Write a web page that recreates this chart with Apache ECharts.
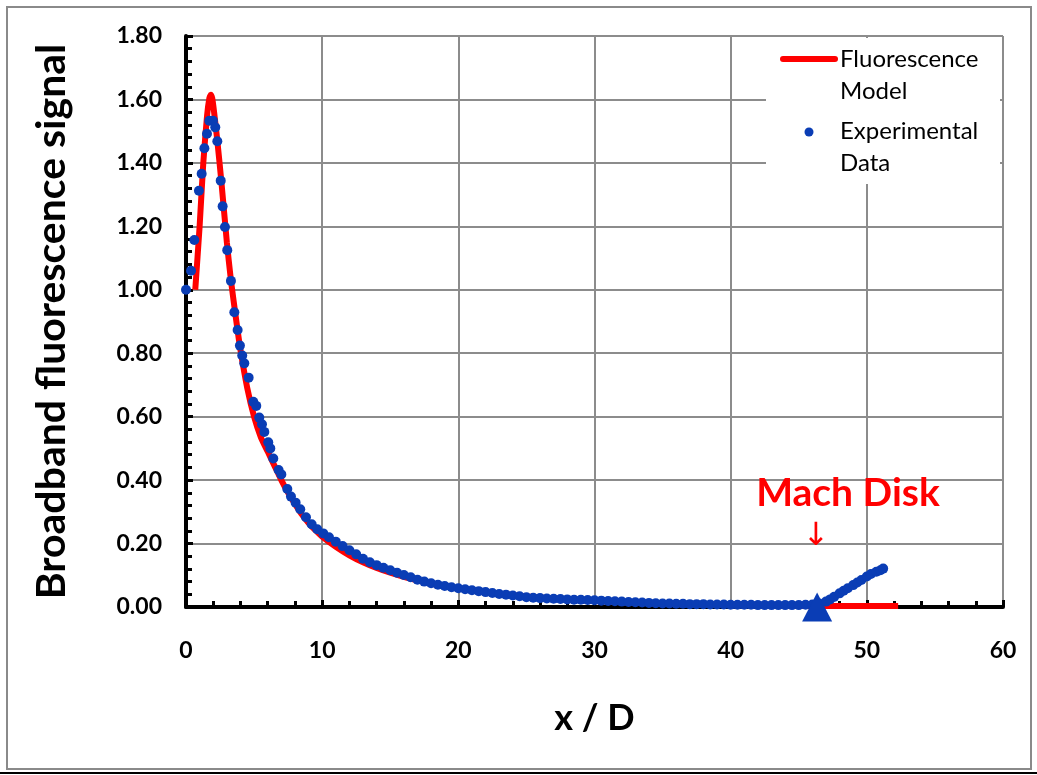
<!DOCTYPE html>
<html><head><meta charset="utf-8">
<script src="https://cdn.jsdelivr.net/npm/echarts@6/dist/echarts.min.js"></script>
<style>html,body{margin:0;padding:0;background:#fff}#c{width:1037px;height:775px}</style>
</head><body><div id="c"></div><script>
const xTitle = 'x / D';
const yTitle = 'Broadband fluorescence signal';
const modelName = 'Fluorescence Model';
const dataName = 'Experimental Data';
const xMin = 0, xMax = 60, xStep = 10;
const yMin = 0, yMax = 1.8, yStep = 0.2;
const machDiskX = 46.35;

const modelCurve = [
 [0.68,1.0],[1.0,1.2],[1.27,1.40],[1.55,1.55],[1.72,1.605],[1.82,1.615],[1.92,1.605],[2.05,1.565],
 [2.3,1.47],[2.6,1.34],[3.0,1.15],[3.3,1.03],[3.7,0.90],[4.0,0.81],[4.5,0.69],[5.0,0.60],
 [5.5,0.535],[6.0,0.49],[6.5,0.445],[7.0,0.40],[7.5,0.36],[8.0,0.325],[8.5,0.292],[9.0,0.265],
 [9.5,0.242],[10,0.222],[11,0.19],[12,0.163],[13,0.141],[14,0.123],[15,0.108],[16,0.095],
 [17,0.084],[18,0.074],[19,0.066],[20,0.058],[22,0.046],[24,0.037],[26,0.030],[28,0.024],
 [30,0.019],[33,0.014],[36,0.010],[40,0.007],[44,0.004],[46.5,0.003],[52.3,0.003]
];

const expData = [
 [0,1.00],[0.37,1.06],[0.61,1.157],[0.95,1.312],[1.15,1.366],[1.35,1.446],[1.54,1.492],[1.71,1.533],
 [1.98,1.533],[2.15,1.512],[2.30,1.468],[2.55,1.344],[2.69,1.263],[2.86,1.198],[3.03,1.125],[3.30,1.028],
 [3.55,0.929],[3.79,0.873],[3.96,0.824],[4.13,0.793],[4.28,0.768],[4.60,0.723],[4.94,0.647],[5.16,0.634],
 [5.38,0.597],[5.58,0.576],[5.75,0.552],[6.04,0.519],[6.19,0.500],[6.41,0.468],[6.80,0.432],[7.00,0.418],
 [7.44,0.372],[7.71,0.348],[8.05,0.329],[8.39,0.308],[8.81,0.283],[9.23,0.261],[9.64,0.245],[10.08,0.232],
 [10.5,0.220],[11,0.206],[11.5,0.192],[12,0.179],[12.5,0.166],[13,0.152],[13.5,0.141],[14,0.132],
 [14.5,0.124],[15,0.116],[15.5,0.108],[16,0.101],[16.5,0.094],[17,0.086],[17.5,0.080],[18,0.075],
 [18.5,0.070],[19,0.066],[19.5,0.062],[20,0.059],[20.5,0.056],[21,0.053],[21.5,0.050],[22,0.047],
 [22.5,0.044],[23,0.041],[23.5,0.039],[24,0.036],[24.5,0.034],[25,0.031],[25.5,0.029],[26,0.028],
 [26.5,0.027],[27,0.026],[27.5,0.025],[28,0.024],[28.5,0.023],[29,0.023],[29.5,0.022],[30,0.021],
 [30.5,0.020],[31,0.019],[31.5,0.018],[32,0.017],[32.5,0.016],[33,0.015],[33.5,0.014],[34,0.013],
 [34.5,0.012],[35,0.011],[35.5,0.011],[36,0.010],[36.5,0.010],[37,0.009],[37.5,0.009],[38,0.009],
 [38.5,0.008],[39,0.008],[39.5,0.008],[40,0.007],[40.5,0.007],[41,0.007],[41.5,0.007],[42,0.006],
 [42.5,0.006],[43,0.006],[43.5,0.006],[44,0.006],[44.5,0.006],[45,0.006],[45.5,0.007],[46,0.008],
 [46.5,0.011],[47,0.017],[47.3,0.024],[47.6,0.032],[48,0.043],[48.3,0.051],[48.6,0.059],[49,0.069],
 [49.3,0.077],[49.6,0.085],[50,0.096],[50.3,0.104],[50.7,0.111],[51,0.116],[51.2,0.121]
];

const markerData = [[machDiskX, 0]];

const FONT = 'Lato';
const RED = '#ff0000';
const BLUE = '#0a3db5';

const chart = echarts.init(document.getElementById('c'));
chart.setOption({
  animation: false,
  backgroundColor: '#fff',
  grid: {left: 186, right: 34, top: 36, bottom: 168, containLabel: false},
  xAxis: {
    type: 'value', min: xMin, max: xMax, interval: xStep,
    axisLine: {show: true, onZero: false, lineStyle: {color: '#000', width: 4}},
    axisTick: {show: true, inside: true, length: 7, lineStyle: {color: '#000', width: 3}},
    minorTick: {show: true, splitNumber: 5, length: 6, lineStyle: {color: '#000', width: 3}},
    splitLine: {show: true, lineStyle: {color: '#8c8c8c', width: 2}},
    axisLabel: {color: '#000', fontFamily: FONT, fontWeight: 'bold', fontSize: 23, margin: 32},
    name: xTitle, nameLocation: 'middle', nameGap: 93,
    nameTextStyle: {color: '#000', fontFamily: FONT, fontWeight: 'bold', fontSize: 36}
  },
  yAxis: {
    type: 'value', min: yMin, max: yMax, interval: yStep,
    axisLine: {show: true, onZero: false, lineStyle: {color: '#000', width: 4}},
    axisTick: {show: true, inside: true, length: 7, lineStyle: {color: '#000', width: 3}},
    minorTick: {show: true, splitNumber: 5, length: 6, lineStyle: {color: '#000', width: 3}},
    splitLine: {show: true, lineStyle: {color: '#8c8c8c', width: 2}},
    axisLabel: {color: '#000', fontFamily: FONT, fontWeight: 'bold', fontSize: 23, margin: 24,
      formatter: v => v.toFixed(2)},
    name: yTitle, nameLocation: 'middle', nameGap: 114,
    nameTextStyle: {color: '#000', fontFamily: FONT, fontWeight: 'bold', fontSize: 41}
  },
  legend: {show: false},
  series: [
    {name: modelName, type: 'line', data: modelCurve, showSymbol: false, smooth: 0.2,
     lineStyle: {color: RED, width: 6}, itemStyle: {color: RED}, z: 3},
    {name: dataName, type: 'scatter', data: expData, symbol: 'circle', symbolSize: 10,
     itemStyle: {color: BLUE, opacity: 1}, z: 4},
    {name: 'Mach Disk', type: 'scatter', data: markerData, symbol: 'triangle', symbolSize: [30, 29],
     itemStyle: {color: BLUE, opacity: 1}, clip: false, z: 5}
  ],
  graphic: [
    {type: 'rect', shape: {x: 7, y: 7, width: 1024, height: 762}, style: {fill: 'none', stroke: '#8a8a8a', lineWidth: 2}, z: -10, silent: true},
    {type: 'line', shape: {x1: 0, y1: 773, x2: 1037, y2: 773}, style: {stroke: '#000', lineWidth: 2}, silent: true},
    {type: 'rect', z: 100, shape: {x: 766, y: 38, width: 234, height: 146}, style: {fill: '#fff'}},
    {type: 'line', z: 101, shape: {x1: 783, y1: 59, x2: 835, y2: 59}, style: {stroke: RED, lineWidth: 6, lineCap: 'round'}},
    {type: 'text', z: 101, x: 840, y: 59, style: {text: 'Fluorescence', font: '24px Lato', fill: '#000', verticalAlign: 'middle'}},
    {type: 'text', z: 101, x: 840, y: 91, style: {text: 'Model', font: '24px Lato', fill: '#000', verticalAlign: 'middle'}},
    {type: 'circle', z: 101, shape: {cx: 809, cy: 132, r: 4.5}, style: {fill: BLUE}},
    {type: 'text', z: 101, x: 840, y: 131, style: {text: 'Experimental', font: '24px Lato', fill: '#000', verticalAlign: 'middle'}},
    {type: 'text', z: 101, x: 840, y: 163, style: {text: 'Data', font: '24px Lato', fill: '#000', verticalAlign: 'middle'}},
    {type: 'text', x: 848, y: 493, z: 100, style: {text: 'Mach Disk', font: 'bold 39px Lato', fill: RED, align: 'center', verticalAlign: 'middle'}},
    {type: 'text', x: 816, y: 537, z: 100, style: {text: '↓', font: '32px "DejaVu Sans"', fill: RED, align: 'center', verticalAlign: 'middle'}}
  ]
});
</script></body></html>
